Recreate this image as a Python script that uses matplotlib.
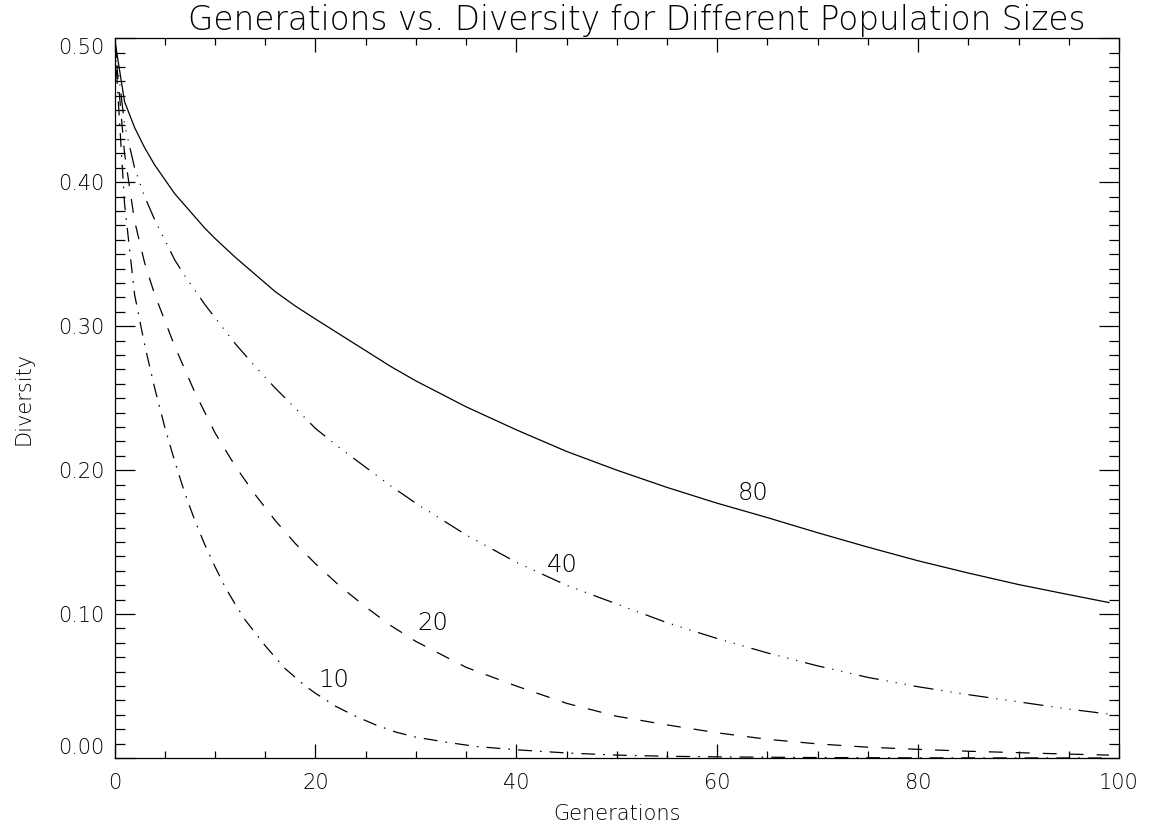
import matplotlib
matplotlib.use("Agg")
import matplotlib.pyplot as plt
from matplotlib.ticker import MultipleLocator, FixedLocator

plt.rcParams['font.family'] = ['DejaVu Sans']
plt.rcParams['font.weight'] = 200
plt.rcParams['axes.labelweight'] = 200
plt.rcParams['lines.scale_dashes'] = False

# ---- data ----
gen_80 = [0, 1, 2, 3, 4, 5, 6, 7, 8, 9, 10, 12, 14, 16, 18, 20, 22.5, 25, 27.5, 30,
          35, 40, 45, 50, 55, 60, 65, 70, 75, 80, 85, 90, 95, 99]
div_80 = [0.500, 0.456, 0.438, 0.424, 0.412, 0.402, 0.392, 0.384, 0.376, 0.368,
          0.361, 0.348, 0.336, 0.324, 0.314, 0.305, 0.294, 0.283, 0.272, 0.262,
          0.244, 0.228, 0.213, 0.200, 0.188, 0.177, 0.167, 0.1565, 0.1465, 0.137,
          0.1285, 0.1205, 0.1135, 0.108]

gen_40 = [0, 1, 2, 3, 4, 5, 6, 7, 8, 9, 10, 12, 14, 16, 18, 20, 22.5, 25, 27.5, 30,
          35, 40, 45, 50, 55, 60, 65, 70, 75, 80, 85, 90, 95, 99]
div_40 = [0.500, 0.440, 0.410, 0.390, 0.374, 0.360, 0.346, 0.335, 0.325, 0.315,
          0.306, 0.288, 0.272, 0.257, 0.243, 0.229, 0.215, 0.202, 0.189, 0.177,
          0.155, 0.136, 0.120, 0.107, 0.094, 0.083, 0.073, 0.064, 0.056, 0.0495,
          0.044, 0.039, 0.034, 0.0305]

gen_20 = [0, 1, 2, 3, 4, 5, 6, 7, 8, 9, 10, 12, 14, 16, 18, 20, 22.5, 25, 27.5, 30,
          35, 40, 45, 50, 55, 60, 65, 70, 75, 80, 85, 90, 95, 99]
div_20 = [0.500, 0.420, 0.373, 0.344, 0.322, 0.304, 0.286, 0.270, 0.254, 0.240,
          0.226, 0.203, 0.183, 0.165, 0.149, 0.135, 0.119, 0.105, 0.092, 0.081,
          0.063, 0.050, 0.038, 0.029, 0.023, 0.0175, 0.013, 0.0098, 0.0075, 0.006,
          0.0047, 0.0037, 0.0027, 0.002]

gen_10 = [0, 1, 2, 3, 4, 5, 6, 7, 8, 9, 10, 11, 12, 13, 14, 15, 16, 17, 18, 19, 20,
          22, 24, 26, 28, 30, 33, 36, 40, 45, 50, 55, 60, 70, 80, 99]
div_10 = [0.500, 0.385, 0.322, 0.287, 0.257, 0.230, 0.206, 0.184, 0.165, 0.148,
          0.133, 0.119, 0.107, 0.096, 0.087, 0.078, 0.070, 0.062, 0.056, 0.050,
          0.045, 0.036, 0.029, 0.023, 0.018, 0.0145, 0.011, 0.008, 0.0057, 0.0035,
          0.002, 0.0012, 0.0008, 0.0003, 0.0001, 0.0]

label_texts = ["80", "40", "20", "10"]
label_x = [62.0, 43.0, 30.1, 20.3]
label_y = [0.179, 0.1294, 0.0889, 0.049]

title = "Generations vs. Diversity for Different Population Sizes"
xlabel = "Generations"
ylabel = "Diversity"

TXT = 'black'

# ---- figure ----
W, H = 1152, 827
fig = plt.figure(figsize=(W / 100, H / 100), dpi=100)
ax = fig.add_axes([114.5 / W, (H - 758) / H, (1119 - 114.5) / W, (758 - 38.3) / H])

lw = 0.9
ax.plot(gen_80, div_80, color='black', lw=lw, linestyle='-')
ax.plot(gen_40, div_40, color='black', lw=lw,
        linestyle=(0, (14.4, 5.8, 0.8, 5.8, 0.8, 5.8, 0.8, 5.8)))
ax.plot(gen_20, div_20, color='black', lw=lw, linestyle=(0, (10.0, 9.4)))
ax.plot(gen_10, div_10, color='black', lw=lw, linestyle=(0, (10.0, 5.8, 1.2, 5.8)))

for t, x, y in zip(label_texts, label_x, label_y):
    ax.text(x, y, t, ha='left', va='baseline', fontsize=17.5, color=TXT)

ax.set_xlim(0, 100)
ax.set_ylim(0, 0.5)
ax.xaxis.set_major_locator(MultipleLocator(20))
ax.xaxis.set_minor_locator(MultipleLocator(5))
ax.yaxis.set_major_locator(FixedLocator([0.0, 0.1, 0.2, 0.3, 0.4, 0.5]))
ax.yaxis.set_minor_locator(MultipleLocator(0.01))
ax.yaxis.set_major_formatter(plt.FuncFormatter(lambda v, p: f"{v:.2f}"))
ax.xaxis.set_major_formatter(plt.FuncFormatter(lambda v, p: f"{v:.0f}"))

ax.tick_params(axis='x', which='major', direction='in', length=10.4, width=0.9,
               top=True, bottom=True, labelsize=15, pad=11, colors='black',
               labelcolor=TXT)
ax.tick_params(axis='x', which='minor', direction='in', length=5.2, width=0.9,
               top=True, bottom=True)
ax.tick_params(axis='y', which='major', direction='in', length=14.5, width=0.9,
               left=True, right=True, labelsize=15, pad=7, labelcolor=TXT)
ax.tick_params(axis='y', which='minor', direction='in', length=7.2, width=0.9,
               left=True, right=True)
for s in ax.spines.values():
    s.set_linewidth(0.9)

# IDL-style: keep end labels inside the axis range
ylabels = ax.get_yticklabels()
ylabels[0].set_verticalalignment('bottom')
ylabels[-1].set_verticalalignment('top')

fig.text(637 / W, (H - 30) / H, title, ha='center', va='baseline',
         fontsize=23.5, color=TXT)
ax.set_xlabel(xlabel, fontsize=15, labelpad=8, color=TXT)
ax.set_ylabel(ylabel, fontsize=15, labelpad=18, color=TXT)

fig.savefig("out.png", dpi=100)
